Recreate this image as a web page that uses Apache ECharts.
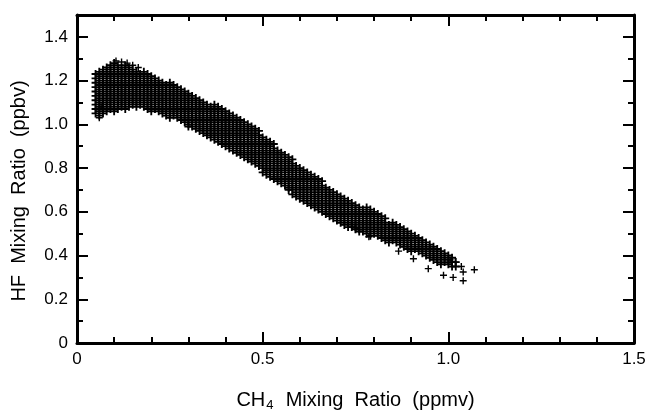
<!DOCTYPE html>
<html><head><meta charset="utf-8">
<script src="https://cdn.jsdelivr.net/npm/echarts@6/dist/echarts.min.js"></script>
<style>html,body{margin:0;padding:0;background:#fff}#c{width:648px;height:410px}</style>
</head><body><div id="c"></div>
<script>
// CH4 columns (ppmv) and the HF values (ppbv) read in each column of the dense cloud
const ch4Columns = [0.05,0.06,0.07,0.08,0.09,0.10,0.11,0.12,0.13,0.14,0.15,0.16,0.17,0.18,0.19,0.20,0.21,0.22,0.23,0.24,0.25,0.26,0.27,0.28,0.29,0.30,0.31,0.32,0.33,0.34,0.35,0.36,0.37,0.38,0.39,0.40,0.41,0.42,0.43,0.44,0.45,0.46,0.47,0.48,0.49,0.50,0.51,0.52,0.53,0.54,0.55,0.56,0.57,0.58,0.59,0.60,0.61,0.62,0.63,0.64,0.65,0.66,0.67,0.68,0.69,0.70,0.71,0.72,0.73,0.74,0.75,0.76,0.77,0.78,0.79,0.80,0.81,0.82,0.83,0.84,0.85,0.86,0.87,0.88,0.89,0.90,0.91,0.92,0.93,0.94,0.95,0.96,0.97,0.98,0.99,1.00,1.01,1.02];
const hfColumns = [
[1.05,1.07,1.09,1.11,1.13,1.15,1.17,1.19,1.21,1.23],
[1.04,1.06,1.08,1.10,1.12,1.14,1.16,1.18,1.20,1.22,1.24],
[1.05,1.07,1.09,1.11,1.13,1.15,1.17,1.19,1.21,1.23,1.25],
[1.06,1.08,1.10,1.12,1.14,1.16,1.18,1.20,1.22,1.24,1.26],
[1.07,1.09,1.11,1.13,1.15,1.17,1.19,1.21,1.23,1.25,1.27],
[1.06,1.08,1.10,1.12,1.14,1.16,1.18,1.20,1.22,1.24,1.26,1.28],
[1.07,1.09,1.11,1.13,1.15,1.17,1.19,1.21,1.23,1.25,1.27],
[1.08,1.10,1.12,1.14,1.16,1.18,1.20,1.22,1.24,1.26],
[1.07,1.09,1.11,1.13,1.15,1.17,1.19,1.21,1.23,1.25,1.27],
[1.08,1.10,1.12,1.14,1.16,1.18,1.20,1.22,1.24,1.26],
[1.09,1.11,1.13,1.15,1.17,1.19,1.21,1.23,1.25],
[1.08,1.10,1.12,1.14,1.16,1.18,1.20,1.22,1.24],
[1.09,1.11,1.13,1.15,1.17,1.19,1.21,1.23],
[1.08,1.10,1.12,1.14,1.16,1.18,1.20,1.22,1.24],
[1.07,1.09,1.11,1.13,1.15,1.17,1.19,1.21,1.23],
[1.06,1.08,1.10,1.12,1.14,1.16,1.18,1.20,1.22],
[1.07,1.09,1.11,1.13,1.15,1.17,1.19,1.21],
[1.06,1.08,1.10,1.12,1.14,1.16,1.18,1.20],
[1.05,1.07,1.09,1.11,1.13,1.15,1.17,1.19],
[1.04,1.06,1.08,1.10,1.12,1.14,1.16,1.18],
[1.03,1.05,1.07,1.09,1.11,1.13,1.15,1.17,1.19],
[1.04,1.06,1.08,1.10,1.12,1.14,1.16,1.18],
[1.03,1.05,1.07,1.09,1.11,1.13,1.15,1.17],
[1.02,1.04,1.06,1.08,1.10,1.12,1.14,1.16],
[1.01,1.03,1.05,1.07,1.09,1.11,1.13,1.15],
[0.99,1.00,1.02,1.04,1.06,1.08,1.10,1.12,1.14],
[0.99,1.01,1.03,1.05,1.07,1.09,1.11,1.13],
[0.98,1.00,1.02,1.04,1.06,1.08,1.10,1.12],
[0.97,0.99,1.01,1.03,1.05,1.07,1.09,1.11],
[0.96,0.98,1.00,1.02,1.04,1.06,1.08,1.10],
[0.95,0.97,0.99,1.01,1.03,1.05,1.07,1.09],
[0.94,0.96,0.98,1.00,1.02,1.04,1.06,1.08],
[0.93,0.95,0.97,0.99,1.01,1.03,1.05,1.07,1.09],
[0.92,0.94,0.96,0.98,1.00,1.02,1.04,1.06,1.08],
[0.91,0.93,0.95,0.97,0.99,1.01,1.03,1.05,1.07],
[0.90,0.92,0.94,0.96,0.98,1.00,1.02,1.04,1.06],
[0.89,0.91,0.93,0.95,0.97,0.99,1.01,1.03,1.05],
[0.88,0.90,0.92,0.94,0.96,0.98,1.00,1.02,1.04],
[0.87,0.89,0.91,0.93,0.95,0.97,0.99,1.01,1.03],
[0.86,0.88,0.90,0.92,0.94,0.96,0.98,1.00,1.02],
[0.85,0.87,0.89,0.91,0.93,0.95,0.97,0.99,1.01],
[0.84,0.86,0.88,0.90,0.92,0.94,0.96,0.98,1.00],
[0.83,0.85,0.87,0.89,0.91,0.93,0.95,0.97,0.99],
[0.82,0.84,0.86,0.88,0.90,0.92,0.94,0.96,0.98],
[0.81,0.83,0.85,0.87,0.89,0.91,0.93,0.95,0.97],
[0.78,0.80,0.82,0.84,0.86,0.88,0.90,0.92,0.94],
[0.77,0.79,0.81,0.83,0.85,0.87,0.89,0.91,0.93],
[0.76,0.78,0.80,0.82,0.84,0.86,0.88,0.90,0.92],
[0.75,0.77,0.79,0.81,0.83,0.85,0.87,0.89,0.91],
[0.74,0.76,0.78,0.80,0.82,0.84,0.86,0.88],
[0.73,0.75,0.77,0.79,0.81,0.83,0.85,0.87],
[0.72,0.74,0.76,0.78,0.80,0.82,0.84,0.86],
[0.70,0.71,0.73,0.75,0.77,0.79,0.81,0.83,0.85],
[0.68,0.70,0.72,0.74,0.76,0.78,0.80,0.82,0.84],
[0.67,0.69,0.71,0.73,0.75,0.77,0.79,0.81],
[0.66,0.68,0.70,0.72,0.74,0.76,0.78,0.80],
[0.65,0.67,0.69,0.71,0.73,0.75,0.77,0.79],
[0.64,0.66,0.68,0.70,0.72,0.74,0.76,0.78],
[0.63,0.65,0.67,0.69,0.71,0.73,0.75,0.77],
[0.62,0.64,0.66,0.68,0.70,0.72,0.74,0.76],
[0.61,0.63,0.65,0.67,0.69,0.71,0.73,0.75],
[0.60,0.62,0.64,0.66,0.68,0.70,0.72,0.74],
[0.59,0.61,0.63,0.65,0.67,0.69,0.71],
[0.58,0.60,0.62,0.64,0.66,0.68,0.70],
[0.57,0.59,0.61,0.63,0.65,0.67,0.69],
[0.56,0.58,0.60,0.62,0.64,0.66,0.68],
[0.55,0.57,0.59,0.61,0.63,0.65,0.67],
[0.54,0.56,0.58,0.60,0.62,0.64,0.66],
[0.53,0.55,0.57,0.59,0.61,0.63,0.65],
[0.53,0.54,0.56,0.58,0.60,0.62,0.64],
[0.52,0.53,0.55,0.57,0.59,0.61,0.63],
[0.51,0.52,0.54,0.56,0.58,0.60,0.62],
[0.51,0.53,0.55,0.57,0.59,0.61],
[0.50,0.52,0.54,0.56,0.58,0.60,0.62],
[0.49,0.51,0.53,0.55,0.57,0.59,0.61],
[0.50,0.52,0.54,0.56,0.58,0.60],
[0.49,0.51,0.53,0.55,0.57,0.59],
[0.48,0.50,0.52,0.54,0.56,0.58],
[0.47,0.49,0.51,0.53,0.55,0.57],
[0.46,0.48,0.50,0.52,0.54],
[0.47,0.49,0.51,0.53,0.55],
[0.46,0.48,0.50,0.52,0.54],
[0.45,0.47,0.49,0.51,0.53],
[0.44,0.46,0.48,0.50,0.52],
[0.43,0.45,0.47,0.49,0.51],
[0.42,0.44,0.46,0.48,0.50],
[0.43,0.45,0.47,0.49],
[0.42,0.44,0.46,0.48],
[0.41,0.43,0.45,0.47],
[0.40,0.42,0.44,0.46],
[0.39,0.41,0.43,0.45],
[0.38,0.40,0.42,0.44],
[0.37,0.39,0.41,0.43],
[0.36,0.38,0.40,0.42],
[0.37,0.39,0.41],
[0.36,0.38,0.40],
[0.35,0.37,0.39],
[0.35,0.37]
];
// isolated points at the edges of the cloud
const outlierCH4 = [0.06,0.065,0.105,0.12,0.135,0.15,0.165,0.75,0.786,0.866,0.906,0.946,0.987,1.013,1.04,1.04,1.035,1.07,1.019,1.005];
const outlierHF  = [1.03,1.08,1.29,1.285,1.28,1.27,1.26,0.52,0.486,0.42,0.385,0.34,0.31,0.30,0.285,0.325,0.35,0.335,0.37,0.38];

const xTickLabels = ['0','0.5','1.0','1.5'];
const yTickLabels = ['0','0.2','0.4','0.6','0.8','1.0','1.2','1.4'];

const densePoints = [];
ch4Columns.forEach((x, i) => hfColumns[i].forEach(y => densePoints.push([x, y])));
const sparsePoints = outlierCH4.map((x, i) => [x, outlierHF[i]]);

const FONT = '"Liberation Sans", Arial, Helvetica, sans-serif';
const plusThick = 'path://M-0.23,-1H0.23V-0.23H1V0.23H0.23V1H-0.23V0.23H-1V-0.23H-0.23Z';
const plus = 'path://M-0.2,-1H0.2V-0.2H1V0.2H0.2V1H-0.2V0.2H-1V-0.2H-0.2Z';

function xAx(pos, interval, len, labels, line) {
  return {
    type: 'value', min: 0, max: 1.5, interval: interval, position: pos,
    axisLine: { show: line, onZero: false, lineStyle: { color: '#000', width: 3 } },
    axisTick: { show: true, inside: true, length: len, lineStyle: { color: '#000', width: 2 } },
    axisLabel: labels ? {
      show: true, color: '#000', fontFamily: FONT, fontSize: 17, margin: 8,
      formatter: v => xTickLabels[Math.round(v / 0.5)]
    } : { show: false },
    splitLine: { show: false }
  };
}
function yAx(pos, interval, len, labels, line) {
  return {
    type: 'value', min: 0, max: 1.5, interval: interval, position: pos,
    axisLine: { show: line, onZero: false, lineStyle: { color: '#000', width: 3 } },
    axisTick: { show: true, inside: true, length: len, lineStyle: { color: '#000', width: 2 } },
    axisLabel: labels ? {
      show: true, color: '#000', fontFamily: FONT, fontSize: 17, margin: 9, showMaxLabel: false,
      formatter: v => { const i = Math.round(v / 0.2); return (Math.abs(v - i * 0.2) < 1e-6 && i < yTickLabels.length) ? yTickLabels[i] : ''; }
    } : { show: false },
    splitLine: { show: false }
  };
}

const xAxes = [
  xAx('bottom', 0.5, 11, true, true),
  xAx('bottom', 0.1, 6, false, false),
  xAx('top', 0.5, 11, false, true),
  xAx('top', 0.1, 6, false, false)
];
xAxes[0].name = '{a|CH}{s|4}{a|  Mixing  Ratio  (ppmv)}';
xAxes[0].nameLocation = 'middle';
xAxes[0].nameGap = 46;
xAxes[0].nameTextStyle = {
  color: '#000', fontFamily: FONT,
  rich: {
    a: { fontSize: 20, fontFamily: FONT, color: '#000', lineHeight: 22 },
    s: { fontSize: 13, fontFamily: FONT, color: '#000', lineHeight: 22, padding: [11, 1, 0, 1] }
  }
};
const yAxes = [
  yAx('left', 0.2, 11, true, true),
  yAx('left', 0.1, 6, false, false),
  yAx('right', 0.2, 11, false, true),
  yAx('right', 0.1, 6, false, false)
];
yAxes[0].name = 'HF  Mixing  Ratio  (ppbv)';
yAxes[0].nameLocation = 'middle';
yAxes[0].nameGap = 48;
yAxes[0].nameTextStyle = { color: '#000', fontFamily: FONT, fontSize: 20, padding: [0, 24, 0, 0] };

const chart = echarts.init(document.getElementById('c'), null, { renderer: 'canvas' });
chart.setOption({
  animation: false,
  backgroundColor: '#fff',
  grid: { left: 77, right: 14, top: 15, bottom: 67, containLabel: false, outerBoundsMode: 'none' },
  xAxis: xAxes,
  yAxis: yAxes,
  series: [{
    type: 'scatter', xAxisIndex: 0, yAxisIndex: 0,
    data: densePoints, symbol: plusThick, symbolSize: 8, silent: true,
    itemStyle: { color: '#000', opacity: 1 }
  }, {
    type: 'scatter', xAxisIndex: 0, yAxisIndex: 0,
    data: sparsePoints, symbol: plus, symbolSize: 7, silent: true,
    itemStyle: { color: '#000', opacity: 1 }
  }]
});
</script>
</body></html>
